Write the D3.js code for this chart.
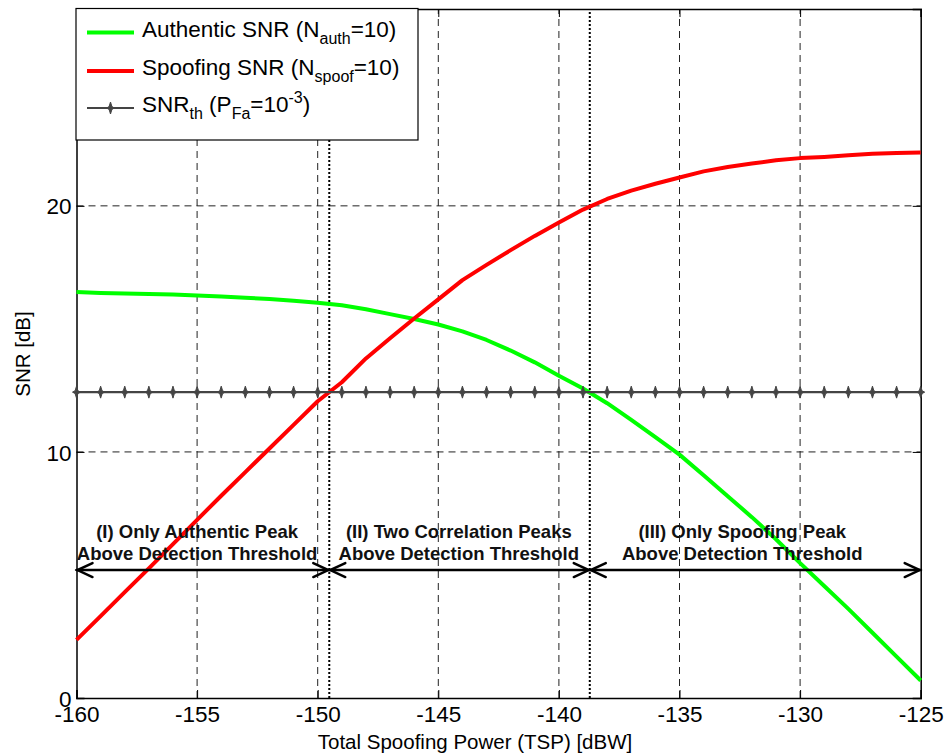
<!DOCTYPE html>
<html>
<head>
<meta charset="utf-8">
<script src="https://cdn.jsdelivr.net/npm/d3@7"></script>
<style>
  html, body { margin: 0; padding: 0; background: #fff; }
  svg { display: block; font-family: "Liberation Sans", Arial, Helvetica, sans-serif; }
</style>
</head>
<body>
<svg id="chart" width="944" height="756"></svg>
<script>
// Total spoofing power (dBW), one sample per dB
const tsp = d3.range(-160, -124, 1);

// Authentic correlation peak SNR (dB)
const authenticSNR = [
  16.50, 16.46, 16.44, 16.42, 16.40, 16.36, 16.32, 16.27, 16.21, 16.14,
  16.06, 15.96, 15.80, 15.60, 15.40, 15.18, 14.90, 14.55, 14.12, 13.64,
  13.10, 12.58, 11.98, 11.30, 10.60, 9.89, 9.05, 8.20, 7.35, 6.45,
  5.48, 4.55, 3.62, 2.65, 1.68, 0.71
];

// Spoofing correlation peak SNR (dB)
const spoofingSNR = [
  2.36, 3.33, 4.30, 5.27, 6.25, 7.24, 8.22, 9.18, 10.14, 11.10,
  12.06, 12.83, 13.80, 14.62, 15.42, 16.20, 16.98, 17.60, 18.20, 18.78,
  19.32, 19.85, 20.28, 20.62, 20.90, 21.15, 21.40, 21.58, 21.72, 21.85,
  21.94, 21.99, 22.06, 22.12, 22.15, 22.17
];

// Detection threshold SNR (dB)
const thresholdSNR = 12.43;

// Region boundaries (where each curve crosses the threshold)
const boundaries = [-160, -149.52, -138.72, -125];
const arrowLevel = 5.2;
const regionLabels = [
  ["(I) Only Authentic Peak", "Above Detection Threshold"],
  ["(II) Two Correlation Peaks", "Above Detection Threshold"],
  ["(III) Only Spoofing Peak", "Above Detection Threshold"]
];
const regionLabelX = [-155.0, -144.15, -132.4];

const xTicks = [-160, -155, -150, -145, -140, -135, -130, -125];
const yTicks = [0, 10, 20];

const svg = d3.select("#chart");
const x = d3.scaleLinear().domain([-160, -125]).range([76.5, 920.7]);
const y = d3.scaleLinear().domain([0, 28]).range([698, 9]);

// grid
const grid = svg.append("g").attr("stroke", "#222").attr("stroke-width", 1)
  .attr("stroke-dasharray", "7,5");
grid.selectAll("line.gx").data(xTicks.slice(1, -1)).join("line")
  .attr("x1", d => x(d)).attr("x2", d => x(d))
  .attr("y1", y(0)).attr("y2", y(28));
grid.selectAll("line.gy").data(yTicks.slice(1)).join("line")
  .attr("x1", x(-160)).attr("x2", x(-125))
  .attr("y1", d => y(d)).attr("y2", d => y(d));

// dotted region boundaries
svg.append("g").selectAll("line").data(boundaries.slice(1, -1)).join("line")
  .attr("x1", d => x(d)).attr("x2", d => x(d))
  .attr("y1", y(0)).attr("y2", y(28))
  .attr("stroke", "#000").attr("stroke-width", 2).attr("stroke-dasharray", "2,2");

// axes (ticks inside, full box)
const fmt = d => String(d);
const xAxis = d3.axisBottom(x).tickValues(xTicks).tickSize(-8).tickPadding(12).tickFormat(fmt);
const yAxis = d3.axisLeft(y).tickValues(yTicks).tickSize(-8).tickPadding(12).tickFormat(fmt);
const xa = svg.append("g").attr("transform", `translate(0,${y(0)})`).call(xAxis);
const ya = svg.append("g").attr("transform", `translate(${x(-160)},0)`).call(yAxis);
svg.append("g").attr("transform", `translate(0,${y(28)})`)
  .call(d3.axisTop(x).tickValues(xTicks).tickSize(-8).tickFormat(""));
svg.append("g").attr("transform", `translate(${x(-125)},0)`)
  .call(d3.axisRight(y).tickValues(yTicks).tickSize(-8).tickFormat(""));
svg.selectAll(".domain").attr("stroke", "#000").attr("stroke-width", 1.5);
svg.selectAll(".tick line").attr("stroke", "#000");
[xa, ya].forEach(a => a.selectAll("text")
  .attr("font-size", 22.5).attr("fill", "#000")
  .attr("font-family", "'Liberation Sans', Arial, Helvetica, sans-serif"));
xa.selectAll("text").attr("dy", "0.71em").attr("y", 8);
ya.selectAll("text").attr("dy", "0.36em").attr("x", -5);

// curves
const line = d3.line().x(d => x(d[0])).y(d => y(d[1]));
svg.append("path").datum(tsp.map((t, i) => [t, authenticSNR[i]]))
  .attr("d", line).attr("fill", "none").attr("stroke", "#00ff00")
  .attr("stroke-width", 4).attr("stroke-linejoin", "round");
svg.append("path").datum(tsp.map((t, i) => [t, spoofingSNR[i]]))
  .attr("d", line).attr("fill", "none").attr("stroke", "#ff0000")
  .attr("stroke-width", 4).attr("stroke-linejoin", "round");

// threshold line with markers
const thrPts = tsp.map(t => [t, thresholdSNR]);
svg.append("path").datum(thrPts).attr("d", line).attr("fill", "none")
  .attr("stroke", "#444").attr("stroke-width", 2.2);
const markerPath = "M0,-6 L1.4,-1.4 L4,0 L1.4,1.4 L0,6 L-1.4,1.4 L-4,0 L-1.4,-1.4 Z";
svg.append("g").selectAll("path").data(thrPts).join("path")
  .attr("transform", d => `translate(${x(d[0])},${y(d[1])})`)
  .attr("d", markerPath).attr("fill", "#444").attr("stroke", "#444").attr("stroke-width", 1);

// region arrows
const ay = y(arrowLevel);
const arrows = svg.append("g").attr("stroke", "#000").attr("stroke-width", 2.5)
  .attr("fill", "none").attr("stroke-linecap", "round");
function arrowHead(px, dir) {
  return `M${px + dir * 15},${ay - 7} L${px},${ay} L${px + dir * 15},${ay + 7}`;
}
for (let i = 0; i < 3; i++) {
  const a = x(boundaries[i]), b = x(boundaries[i + 1]);
  arrows.append("line").attr("x1", a).attr("x2", b).attr("y1", ay).attr("y2", ay);
  arrows.append("path").attr("d", arrowHead(a + 1, 1));
  arrows.append("path").attr("d", arrowHead(b - 1, -1));
}

// region labels
const lbl = svg.append("g").attr("font-weight", "bold").attr("font-size", 18.5)
  .attr("text-anchor", "middle").attr("fill", "#111");
regionLabels.forEach((pair, i) => {
  lbl.append("text").attr("x", x(regionLabelX[i])).attr("y", 538).text(pair[0]);
  lbl.append("text").attr("x", x(regionLabelX[i])).attr("y", 560).text(pair[1]);
});

// axis titles
svg.append("text").attr("x", 475).attr("y", 749)
  .attr("text-anchor", "middle").attr("font-size", 20.5).text("Total Spoofing Power (TSP) [dBW]");
svg.append("text").attr("transform", `translate(30,354) rotate(-90)`)
  .attr("text-anchor", "middle").attr("font-size", 20.5).text("SNR [dB]");

// legend
const lg = svg.append("g");
lg.append("rect").attr("x", 76).attr("y", 8.5).attr("width", 342).attr("height", 131.5)
  .attr("fill", "#fff").attr("stroke", "#000").attr("stroke-width", 1.2);
const legendRows = [
  { color: "#00ff00", w: 4, marker: false, y: 32.5 },
  { color: "#ff0000", w: 4, marker: false, y: 71 },
  { color: "#444", w: 2.2, marker: true, y: 108 }
];
legendRows.forEach(r => {
  lg.append("line").attr("x1", 87).attr("x2", 134).attr("y1", r.y).attr("y2", r.y)
    .attr("stroke", r.color).attr("stroke-width", r.w);
  if (r.marker) lg.append("path").attr("transform", `translate(110.5,${r.y})`)
    .attr("d", markerPath).attr("fill", "#444").attr("stroke", "#444");
});
function legendText(yb, parts) {
  const t = lg.append("text").attr("x", 142).attr("y", yb).attr("font-size", 22.5);
  parts.forEach(p => {
    const s = t.append("tspan").text(p.t);
    if (p.sub) s.attr("font-size", 16).attr("dy", 7);
    if (p.sup) s.attr("font-size", 16).attr("dy", -9);
    if (p.back) s.attr("dy", p.back);
  });
}
legendText(37, [{ t: "Authentic SNR (N" }, { t: "auth", sub: true }, { t: "=10)", back: -7 }]);
legendText(75, [{ t: "Spoofing SNR (N" }, { t: "spoof", sub: true }, { t: "=10)", back: -7 }]);
legendText(112, [{ t: "SNR" }, { t: "th", sub: true }, { t: " (P", back: -7 }, { t: "Fa", sub: true },
  { t: "=10", back: -7 }, { t: "-3", sup: true }, { t: ")", back: 9 }]);
</script>
</body>
</html>
